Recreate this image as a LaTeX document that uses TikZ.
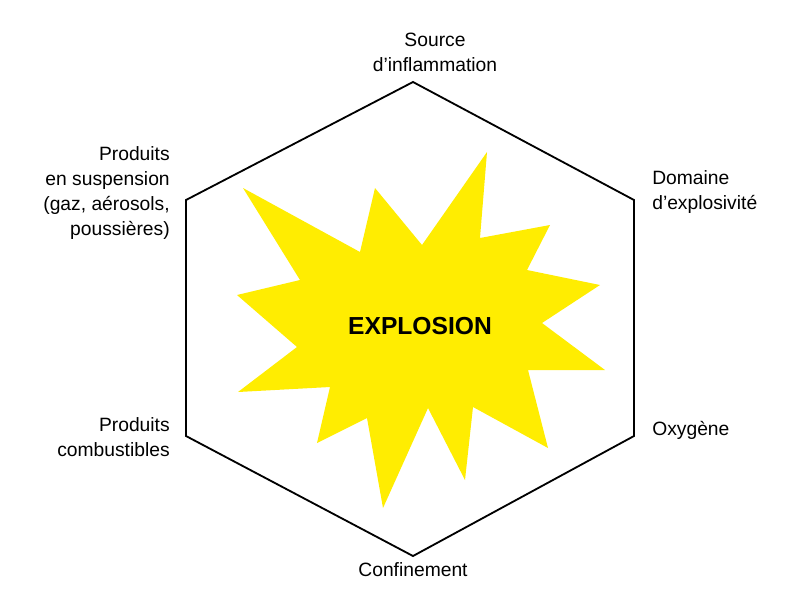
\documentclass[tikz,border=0pt]{standalone}
\usepackage{fontspec}
\setmainfont{Liberation Sans}
\usetikzlibrary{positioning}

\begin{document}
\begin{tikzpicture}
		[x=0.025cm, y=-0.025cm,
		lbl/.style ={font=\fontsize{13.7}{17.8}\selectfont, inner sep=0pt},
		edge/.style ={draw=black, line width=1.3pt, line join=miter}]
		\useasboundingbox (0,0) rectangle (800,600);
		% hexagon corners
		\coordinate (top) at (413,82);
		\coordinate (ur) at (634,200);
		\coordinate (lr) at (634,436);
		\coordinate (bot) at (413,556);
		\coordinate (ll) at (186,436);
		\coordinate (ul) at (186,200);
		\draw[edge] (top) -- (ur) -- (lr) -- (bot) -- (ll) -- (ul) -- cycle;

		% star
		\fill[yellow!95!orange] (487,152) -- (480,238) -- (550,225) -- (527,270) -- (600,285)
		-- (542,323) -- (605,370) -- (528,370) -- (548,448) -- (473,407) -- (465,480)
		-- (428,408) -- (383,508) -- (367,418) -- (317,443) -- (330,387) -- (238,392)
		-- (297,347) -- (237,295) -- (300,280) -- (243,188) -- (360,252) -- (375,188)
		-- (422,245) -- cycle;
		\node[lbl, font=\fontsize{17.5}{20}\selectfont\bfseries] (expl) at (420,326) {EXPLOSION};

		% labels
		\node[lbl, align=center, anchor=south] (source) at (435,72) {Source\\d’inflammation};
		\node[lbl, align=left, anchor=west] (domaine) at (652,192) {Domaine\\d’explosivité};
		\node[lbl, align=left, anchor=west] (oxy) at (652,430) {Oxygène};
		\node[lbl, align=center, anchor=north] (conf) at (413,562) {Confinement};
		\node[lbl, align=right, anchor=east] (comb) at (170,437) {Produits\\combustibles};
		\node[lbl, align=right, anchor=east] (susp) at (170,193) {Produits\\en suspension\\(gaz, aérosols,\\poussières)};
	\end{tikzpicture}
\end{document}
